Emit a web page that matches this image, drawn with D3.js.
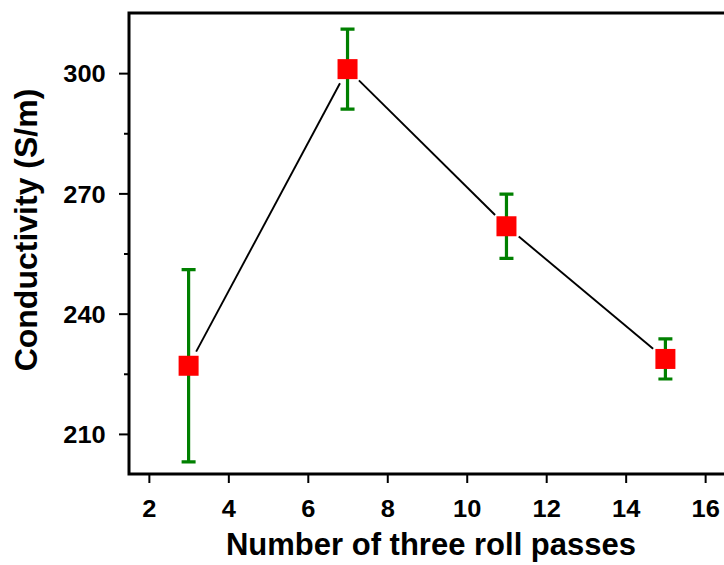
<!DOCTYPE html>
<html>
<head>
<meta charset="utf-8">
<script src="https://cdn.jsdelivr.net/npm/d3@7"></script>
<style>
  html, body { margin: 0; padding: 0; background: #fff; }
  svg { display: block; }
  text { font-family: "Liberation Sans", Arial, sans-serif; font-weight: bold; fill: #000; }
</style>
</head>
<body>
<svg id="chart" width="724" height="565"></svg>
<script>
// Conductivity versus number of three roll passes (mean ± error)
const passes = [3, 7, 11, 15];
const conductivity = [227, 301, 261.8, 228.7];
const errors = [24, 10, 8, 5];
const xTicks = [2, 4, 6, 8, 10, 12, 14, 16];
const yTicks = [210, 240, 270, 300];
const yMinorTicks = [225, 255, 285];

const svg = d3.select("#chart");

const x = d3.scaleLinear().domain([1.5, 16.5]).range([129, 725]);
const y = d3.scaleLinear().domain([200, 315]).range([474, 13]);

// frame: left, bottom and top lines
const frame = svg.append("g").attr("fill", "none").attr("stroke", "#000").attr("stroke-width", 3);
frame.append("path")
  .attr("d", `M${x.range()[1]},${y(315)} H${x(1.5)} V${y(200)} H${x.range()[1]}`)
  .attr("stroke-linecap", "square");

// x axis
const xAxis = svg.append("g")
  .attr("transform", `translate(0,${y(200)})`)
  .call(d3.axisBottom(x).tickValues(xTicks).tickSize(9).tickPadding(0).tickFormat(d3.format("d")));
xAxis.select(".domain").remove();
xAxis.selectAll(".tick line").attr("stroke-width", 2);
xAxis.selectAll(".tick text")
  .attr("y", 43).attr("dy", 0)
  .attr("font-size", 24)
  .attr("transform", "scale(1.06,1)");

// y axis (major)
const yAxis = svg.append("g")
  .attr("transform", `translate(${x(1.5)},0)`)
  .call(d3.axisLeft(y).tickValues(yTicks).tickSize(10).tickPadding(12).tickFormat(d3.format("d")));
yAxis.select(".domain").remove();
yAxis.selectAll(".tick line").attr("stroke-width", 2);
yAxis.selectAll(".tick text")
  .attr("dy", "0.36em")
  .attr("font-size", 24)
  .attr("transform", "scale(1.06,1)");

// y axis (minor)
const yMinor = svg.append("g")
  .attr("transform", `translate(${x(1.5)},0)`)
  .call(d3.axisLeft(y).tickValues(yMinorTicks).tickSize(5).tickFormat(""));
yMinor.select(".domain").remove();
yMinor.selectAll(".tick line").attr("stroke-width", 2);

// axis titles
svg.append("text")
  .attr("x", 431).attr("y", 555)
  .attr("text-anchor", "middle")
  .attr("font-size", 31)
  .text("Number of three roll passes");

svg.append("text")
  .attr("transform", "translate(37,230) rotate(-90)")
  .attr("text-anchor", "middle")
  .attr("font-size", 32)
  .text("Conductivity (S/m)");

const data = passes.map((p, i) => ({ p, v: conductivity[i], e: errors[i] }));

// connecting line, with a gap around each marker
const gap = 16;
const segs = d3.pairs(data).map(([a, b]) => {
  const x1 = x(a.p), y1 = y(a.v), x2 = x(b.p), y2 = y(b.v);
  const len = Math.hypot(x2 - x1, y2 - y1);
  const ux = (x2 - x1) / len, uy = (y2 - y1) / len;
  return [x1 + ux * gap, y1 + uy * gap, x2 - ux * gap, y2 - uy * gap];
});
svg.append("g").selectAll("line").data(segs).join("line")
  .attr("x1", d => d[0]).attr("y1", d => d[1])
  .attr("x2", d => d[2]).attr("y2", d => d[3])
  .attr("stroke", "#000").attr("stroke-width", 1.9);

// error bars
const eb = svg.append("g").attr("stroke", "#008000").attr("stroke-width", 3.2).attr("fill", "none");
const capW = 7;
eb.selectAll("path").data(data).join("path")
  .attr("d", d => {
    const cx = x(d.p), yt = y(d.v + d.e), yb = y(d.v - d.e);
    return `M${cx},${yt} V${yb} M${cx - capW},${yt} H${cx + capW} M${cx - capW},${yb} H${cx + capW}`;
  });

// markers
const ms = 20;
svg.append("g").selectAll("rect").data(data).join("rect")
  .attr("x", d => x(d.p) - ms / 2)
  .attr("y", d => y(d.v) - ms / 2)
  .attr("width", ms).attr("height", ms)
  .attr("fill", "#ff0000");
</script>
</body>
</html>
